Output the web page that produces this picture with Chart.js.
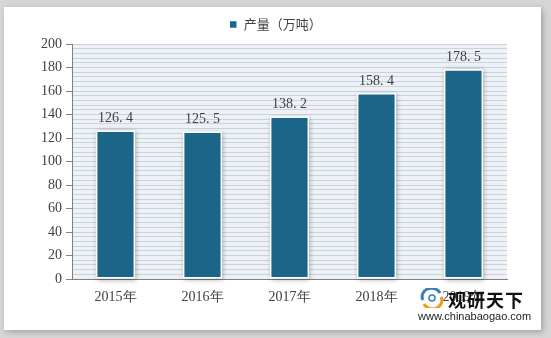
<!DOCTYPE html>
<html>
<head>
<meta charset="utf-8">
<script src="https://cdn.jsdelivr.net/npm/chart.js@4"></script>
<style>
  html, body { margin: 0; padding: 0; }
  body { width: 551px; height: 338px; background: #d6d6d6; position: relative; overflow: hidden; }
  .card { position: absolute; left: 4px; top: 7px; width: 537px; height: 323px; background: #fff;
          box-shadow: 2px 2px 6px rgba(0,0,0,0.25); }
  #wrap { position: absolute; left: 0; top: 0; width: 551px; height: 338px; }
  .mark { position: absolute; left: 418px; top: 286px; width: 118px; height: 40px; }
  .mark .logo { position: absolute; left: 2px; top: 2px; width: 24px; height: 20px; }
  .mark .name { position: absolute; left: 30px; top: 2px; font: bold 18px "Noto Sans CJK SC"; color: #111; letter-spacing: 1px; line-height: 22px; }
  .mark .url { position: absolute; left: 0; top: 24px; font: 11px "Liberation Sans"; color: #222; line-height: 13px; }
</style>
</head>
<body>
<div class="card"></div>
<div id="wrap"><canvas id="chart" width="551" height="338"></canvas></div>
<div class="mark">
  <svg class="logo" viewBox="0 0 24 20">
    <path d="M3 12 A9 8 0 0 1 20 5" stroke="#3a7fb8" stroke-width="3" fill="none"/>
    <path d="M21 9 A9 8 0 0 1 4 16" stroke="#f39a1e" stroke-width="3" fill="none"/>
    <circle cx="12" cy="10" r="3" fill="none" stroke="#3a7fb8" stroke-width="1.5"/>
  </svg>
  <div class="name">观研天下</div>
  <div class="url">www.chinabaogao.com</div>
</div>
<script>
const years = ['2015年', '2016年', '2017年', '2018年', '2019年'];
const output = [126.4, 125.5, 138.2, 158.4, 178.5];
const seriesName = '产量（万吨）';
const yMax = 200;

const barColor = '#1b6688';

// pale striped plot background + bar shadows + value labels
const plotDecor = {
  id: 'plotDecor',
  afterLayout (chart) {
    // centre the legend on the whole page, not on the padded box
    if (chart.legend) {
      chart.legend.left += 22;
      chart.legend.right += 22;
      chart.legend.top -= 3;
      chart.legend.bottom -= 3;
    }
  },
  beforeDraw (chart) {
    const { ctx, chartArea: a } = chart;
    ctx.save();
    ctx.fillStyle = '#eef2f7';
    ctx.fillRect(a.left, a.top, a.right - a.left, a.bottom - a.top);
    ctx.restore();
  },
  beforeDatasetsDraw (chart) {
    const { ctx } = chart;
    ctx.save();
    chart.getDatasetMeta(0).data.forEach(bar => {
      ctx.shadowColor = 'rgba(0,0,0,0.35)';
      ctx.shadowBlur = 5;
      ctx.shadowOffsetX = 1;
      ctx.shadowOffsetY = 1;
      ctx.fillStyle = '#fff';
      ctx.fillRect(bar.x - bar.width / 2, bar.y, bar.width, bar.base - bar.y);
    });
    ctx.restore();
  },
  afterDatasetsDraw (chart) {
    const { ctx } = chart;
    ctx.save();
    ctx.font = '14px "Liberation Serif"';
    ctx.fillStyle = '#404040';
    ctx.textAlign = 'center';
    ctx.textBaseline = 'bottom';
    chart.getDatasetMeta(0).data.forEach((bar, i) => {
      ctx.fillText(output[i].toFixed(1).replace('.', '. '), bar.x, bar.y - 5);
    });
    ctx.restore();
  }
};

new Chart(document.getElementById('chart'), {
  type: 'bar',
  data: {
    labels: years,
    datasets: [{
      label: seriesName,
      data: output,
      backgroundColor: barColor,
      borderColor: '#ffffff',
      borderWidth: 1.5,
      borderSkipped: false,
      categoryPercentage: 1,
      barPercentage: 0.45
    }]
  },
  options: {
    responsive: false,
    animation: false,
    layout: { padding: { top: 0, right: 44, bottom: 0, left: 0 } },
    plugins: {
      tooltip: { enabled: false },
      legend: {
        position: 'top',
        labels: {
          boxWidth: 8,
          boxHeight: 8,
          padding: 21,
          color: '#404040',
          font: { family: '"Noto Sans CJK SC"', size: 13 }
        }
      }
    },
    scales: {
      x: {
        grid: { display: false, drawTicks: false },
        border: { color: '#7f7f7f', width: 1 },
        ticks: {
          padding: 10,
          color: '#404040',
          font: { family: '"Liberation Serif"', size: 14 }
        },
        afterFit (scale) { scale.height = 59; }
      },
      y: {
        min: 0,
        max: yMax,
        afterBuildTicks (scale) {
          const t = [];
          for (let v = 0; v <= yMax; v += 4) t.push({ value: v });
          scale.ticks = t;
        },
        grid: {
          color: ctx => ctx.tick && ctx.tick.value === 0 ? 'rgba(0,0,0,0)' : '#c9d3dd',
          tickColor: ctx => ctx.tick && ctx.tick.value % 20 === 0 ? '#7f7f7f' : 'rgba(0,0,0,0)',
          tickLength: 6,
          lineWidth: 1
        },
        border: { color: '#7f7f7f', width: 1 },
        ticks: {
          autoSkip: false,
          padding: 4,
          color: '#404040',
          font: { family: '"Liberation Serif"', size: 14 },
          callback: v => v % 20 === 0 ? v : ''
        },
        afterFit (scale) { scale.width = 72; }
      }
    }
  },
  plugins: [plotDecor]
});
</script>
</body>
</html>
